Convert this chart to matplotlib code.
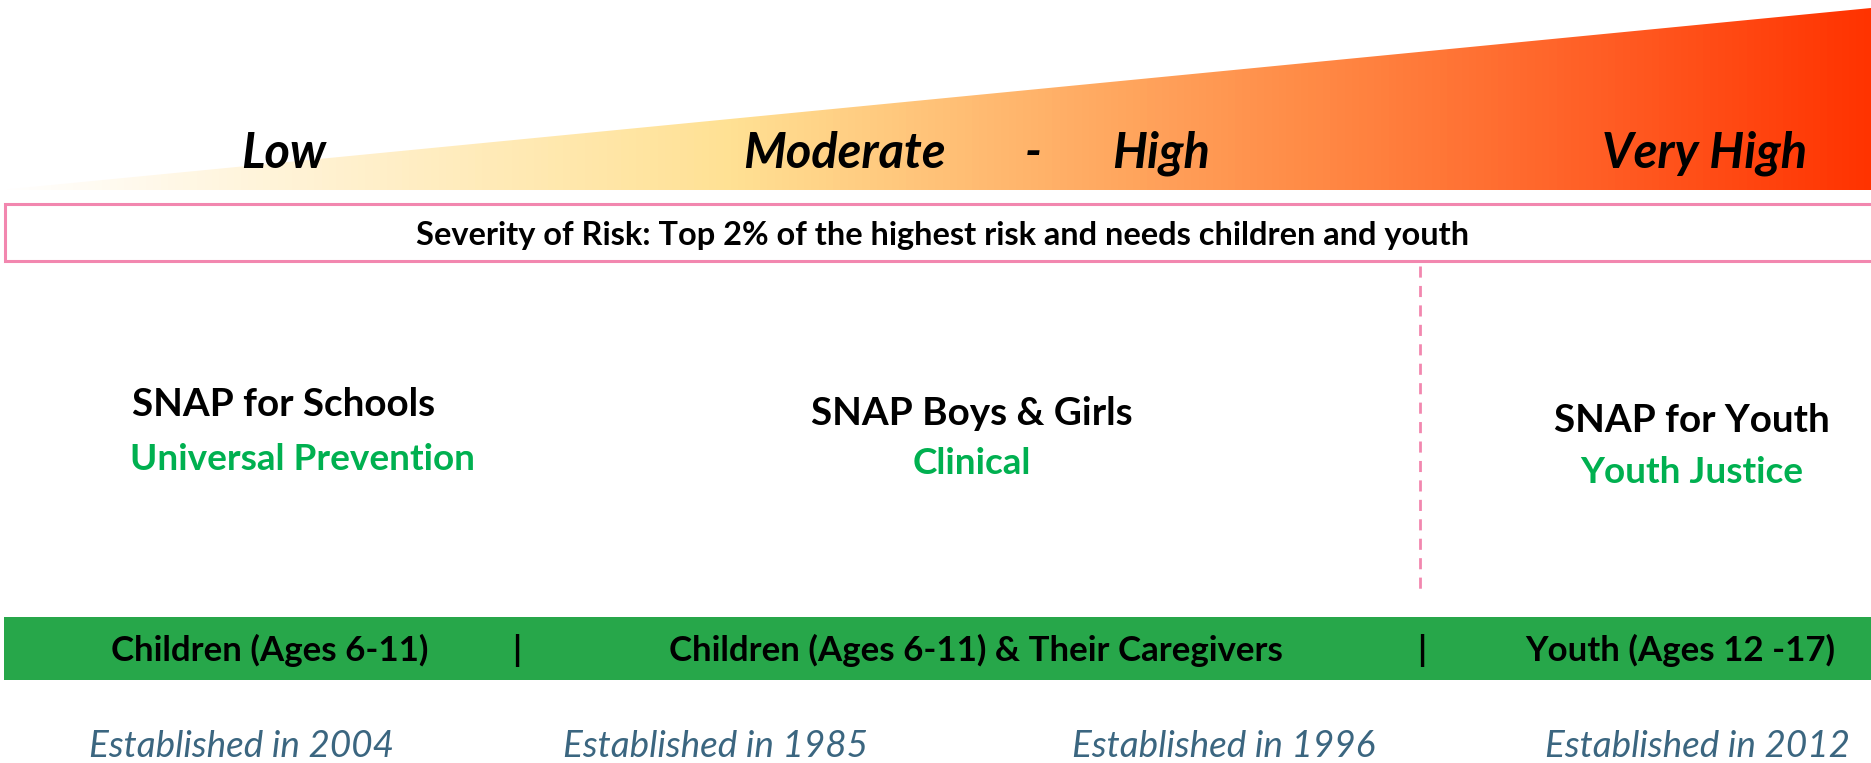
import matplotlib
matplotlib.use("Agg")
import matplotlib.pyplot as plt
import numpy as np
from matplotlib.colors import LinearSegmentedColormap
from matplotlib.patches import Polygon, Rectangle

# ---------------- data ----------------
risk_labels = ["Low", "Moderate", "-", "High", "Very High"]
severity_text = "Severity of Risk: Top 2% of the highest risk and needs children and youth"
program_names = ["SNAP for Schools", "SNAP Boys & Girls", "SNAP for Youth"]
program_types = ["Universal Prevention", "Clinical", "Youth Justice"]
audience_labels = ["Children (Ages 6-11)", "|", "Children (Ages 6-11) & Their Caregivers", "|", "Youth (Ages 12 -17)"]
established_years = [2004, 1985, 1996, 2012]

# ---------------- layout / style ----------------
W, H = 1871, 763
fig = plt.figure(figsize=(W / 100, H / 100), dpi=100)
ax = fig.add_axes([0, 0, 1, 1])
ax.set_xlim(0, W)
ax.set_ylim(H, 0)
ax.axis("off")

FONT = "Lato"

# gradient triangle
grad_stops = [(0.0, "#FFFFFF"), (0.18, "#FFF1CF"), (0.39, "#FFE194"),
              (0.55, "#FFB46B"), (0.71, "#FF8844"), (0.87, "#FF5A22"), (1.0, "#FF3300")]
cmap = LinearSegmentedColormap.from_list("risk", grad_stops)
grad = np.linspace(0, 1, 512).reshape(1, -1)
im = ax.imshow(grad, cmap=cmap, extent=[0, W, 190, 8], aspect="auto", zorder=1)
tri = Polygon([[0, 190], [W, 8], [W, 190]], closed=True, transform=ax.transData,
              facecolor="none", edgecolor="none")
ax.add_patch(tri)
im.set_clip_path(tri)
ax.set_ylim(H, 0)
ax.set_xlim(0, W)

renderer = fig.canvas.get_renderer()


def fit_size(text, width, weight="bold", style="normal"):
    t = ax.text(0, 0, text, fontsize=20, fontfamily=FONT, fontweight=weight, fontstyle=style)
    bb = t.get_window_extent(renderer=renderer)
    t.remove()
    return 20 * width / bb.width


# risk labels
risk_x = [284, 844, 1033, 1161, 1705]
rs = fit_size("Very High", 205, "bold", "italic")
for lab, x in zip(risk_labels, risk_x):
    ax.text(x, 168, lab, ha="center", va="baseline", fontsize=rs, fontfamily=FONT,
            fontweight="bold", fontstyle="italic", color="black", zorder=3)

# severity box
ax.add_patch(Rectangle((5, 204), W + 10, 57, facecolor="white", edgecolor="#F287AF",
                       linewidth=2.2, zorder=2, clip_on=False))
ss = fit_size(severity_text, 1056)
ax.text(943, 245, severity_text, ha="center", va="baseline", fontsize=ss,
        fontfamily=FONT, fontweight="bold", color="black", zorder=3)

# dashed divider
ax.plot([1420, 1420], [266, 592], color="#F287AF", linewidth=2, linestyle=(0, (4, 3)), zorder=2)

# program names & types
name_xy = [(284, 416), (972, 425), (1692, 432)]
type_xy = [(303, 470), (972, 474), (1692, 483)]
ns = fit_size("SNAP for Youth", 276)
ts = fit_size("Universal Prevention", 345)
for nm, (x, y) in zip(program_names, name_xy):
    ax.text(x, y, nm, ha="center", va="baseline", fontsize=ns, fontfamily=FONT,
            fontweight="bold", color="black", zorder=3)
for tp, (x, y) in zip(program_types, type_xy):
    ax.text(x, y, tp, ha="center", va="baseline", fontsize=ts, fontfamily=FONT,
            fontweight="bold", color="#00B050", zorder=3)

# green audience bar
ax.add_patch(Rectangle((4, 617), W, 63, facecolor="#27A74A", edgecolor="none", zorder=2))
aud_x = [270, 517, 976, 1422, 1680]
as_ = fit_size("Youth (Ages 12 -17)", 310)
for lab, x in zip(audience_labels, aud_x):
    ax.text(x, 661, lab, ha="center", va="baseline", fontsize=as_, fontfamily=FONT,
            fontweight="bold", color="black", zorder=3)

# established
est_x = [242, 716, 1224, 1698]
es = fit_size("Established in 2004", 305, "normal", "italic")
for yr, x in zip(established_years, est_x):
    ax.text(x, 757, f"Established in {yr}", ha="center", va="baseline", fontsize=es,
            fontfamily=FONT, fontstyle="italic", color="#3B6680", zorder=3)

fig.savefig("out.png", dpi=100)
